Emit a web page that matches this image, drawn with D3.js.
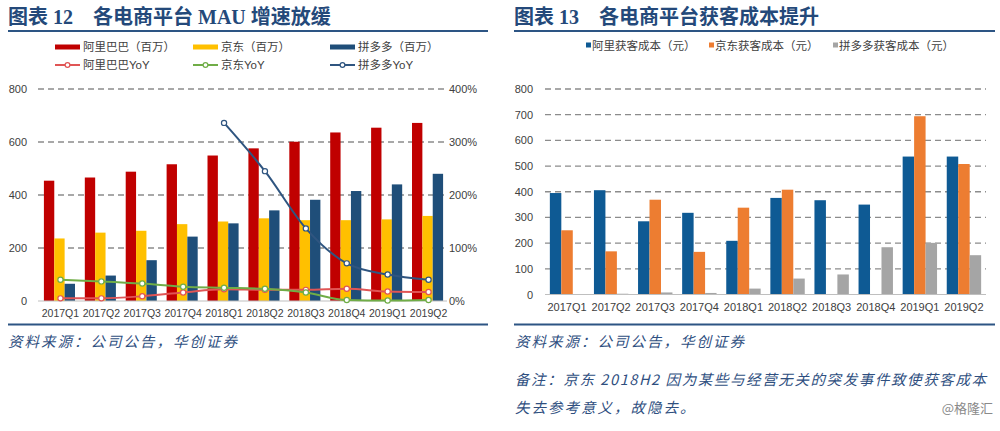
<!DOCTYPE html>
<html><head><meta charset="utf-8">
<script src="https://cdn.jsdelivr.net/npm/d3@7"></script>
<style>
html,body{margin:0;padding:0;background:#fff;}
svg text{font-family:"Liberation Sans","Noto Sans CJK SC",sans-serif;}
</style></head>
<body>
<svg id="c" width="1000" height="431"></svg>
<script>
// ---------- data ----------
const quarters = ["2017Q1","2017Q2","2017Q3","2017Q4","2018Q1","2018Q2","2018Q3","2018Q4","2019Q1","2019Q2"];
// Chart 12: MAU (millions) and YoY (%)
const aliMAU = [454,466,488,516,549,576,601,636,654,672];
const jdMAU  = [236,258,265,290,300,312,305,305,308,321];
const pddMAU = [65,96,154,243,293,342,382,415,440,480];
const aliYoY = [5,5,9,16,22,21,21,23,18,17];
const jdYoY  = [40,37,33,27,25,23,16,2,1,2];
const pddYoY = [null,null,null,null,336,245,137,71,50,40];
const leftTicks = [0,200,400,600,800];
const rightTicks = [0,100,200,300,400];
// Chart 13: customer acquisition cost (yuan)
const aliCAC = [395,406,285,318,209,376,367,350,537,537];
const jdCAC  = [250,168,369,166,338,408,null,null,694,508];
const pddCAC = [1,3,8,6,23,62,78,184,201,153];
const cacTicks = [0,100,200,300,400,500,600,700,800];

const title12 = "图表 12　各电商平台 MAU 增速放缓";
const title13 = "图表 13　各电商平台获客成本提升";
const source = "资料来源：公司公告，华创证券";
const note1 = "备注：京东 2018H2 因为某些与经营无关的突发事件致使获客成本";
const note2 = "失去参考意义，故隐去。";

const svg = d3.select("#c");
const titleColor = "#24497a";

// ---------- titles and rules ----------
function header(x, x2, txt){
  svg.append("text").attr("x", x).attr("y", 24).text(txt)
    .style("font-family", "'Liberation Serif','Noto Sans CJK SC',serif")
    .attr("font-size", 20).attr("font-weight", "bold").attr("fill", titleColor);
  svg.append("line").attr("x1", x).attr("x2", x2).attr("y1", 31).attr("y2", 31)
    .attr("stroke", "#2d5584").attr("stroke-width", 2);
}
header(8, 488, title12);
header(514, 995, title13);

function footRule(x, x2){
  svg.append("line").attr("x1", x).attr("x2", x2).attr("y1", 324.5).attr("y2", 324.5)
    .attr("stroke", "#2d5584").attr("stroke-width", 2);
}
footRule(8, 488);
footRule(514, 995);
function ftext(x, y, t, ls){
  svg.append("text").attr("x", x).attr("y", y).text(t)
    .attr("font-size", 14.5).attr("font-style", "italic").attr("fill", "#2f4f7f")
    .attr("letter-spacing", ls)
    .style("font-family", "'Noto Sans CJK SC',serif");
}
ftext(8, 347, source, 2);
ftext(515, 347, source, 2);
ftext(515, 385, note1, 1.6);
ftext(515, 413, note2, 2);
svg.append("text").attr("x", 993).attr("y", 413).attr("text-anchor", "end").text("@格隆汇")
  .attr("font-size", 13).attr("fill", "#8a8a8a").style("font-family", "'Noto Sans CJK SC',sans-serif");

// ---------- Chart 12 ----------
{
  const x0 = 38, x1e = 447, yTop = 89, yBot = 301;
  const x = d3.scaleBand().domain(quarters).range([x0, x1e]);
  const y = d3.scaleLinear().domain([0, 800]).range([yBot, yTop]);
  const y2 = d3.scaleLinear().domain([0, 400]).range([yBot, yTop]);
  const groupW = x.bandwidth() * 0.76;
  const xs = d3.scaleBand().domain(["ali","jd","pdd"]).range([0, groupW]);
  const off = (x.bandwidth() - groupW) / 2 + 1;

  const g = svg.append("g");
  g.selectAll(".grid").data(leftTicks.filter(d => d > 0)).join("line")
    .attr("x1", x0).attr("x2", x1e).attr("y1", d => y(d)).attr("y2", d => y(d))
    .attr("stroke", "#8c8c8c").attr("stroke-width", 1.3).attr("stroke-dasharray", "6,4");
  const series = [["ali", aliMAU, "#c00000"], ["jd", jdMAU, "#ffc000"], ["pdd", pddMAU, "#1f4e79"]];
  series.forEach(([k, vals, col]) => {
    g.append("g").selectAll("rect").data(quarters.map((q, i) => ({q, v: vals[i]}))).join("rect")
      .attr("x", d => x(d.q) + off + xs(k)).attr("width", xs.bandwidth())
      .attr("y", d => y(d.v)).attr("height", d => yBot - y(d.v)).attr("fill", col);
  });
  g.append("line").attr("x1", x0).attr("x2", x1e).attr("y1", yBot).attr("y2", yBot)
    .attr("stroke", "#bfbfbf").attr("stroke-width", 1);
  const lines = [[aliYoY, "#e05555"], [jdYoY, "#70ad47"], [pddYoY, "#2f5580"]];
  lines.forEach(([vals, col]) => {
    const pts = quarters.map((q, i) => ({q, v: vals[i]})).filter(d => d.v != null);
    const line = d3.line().x(d => x(d.q) + x.bandwidth() / 2 + 2).y(d => y2(d.v)).curve(d3.curveMonotoneX);
    g.append("path").datum(pts).attr("d", line).attr("fill", "none").attr("stroke", col).attr("stroke-width", 2);
    g.append("g").selectAll("circle").data(pts).join("circle")
      .attr("cx", d => x(d.q) + x.bandwidth() / 2 + 2).attr("cy", d => y2(d.v)).attr("r", 2.6)
      .attr("fill", "#fff").attr("stroke", col).attr("stroke-width", 1.2);
  });
  const ax = g.append("g").attr("transform", `translate(${x0},0)`)
    .call(d3.axisLeft(y).tickValues(leftTicks).tickSize(0).tickPadding(11));
  ax.select(".domain").remove();
  ax.selectAll("text").attr("font-size", 11).attr("fill", "#404040").style("font-family", "'Liberation Sans',sans-serif");
  const ax2 = g.append("g").attr("transform", `translate(${x1e},0)`)
    .call(d3.axisRight(y2).tickValues(rightTicks).tickFormat(d => d + "%").tickSize(0).tickPadding(2));
  ax2.select(".domain").remove();
  ax2.selectAll("text").attr("font-size", 11).attr("fill", "#404040").style("font-family", "'Liberation Sans',sans-serif");
  const axb = g.append("g").attr("transform", `translate(2,${yBot})`)
    .call(d3.axisBottom(x).tickSize(0).tickPadding(9));
  axb.select(".domain").remove();
  axb.selectAll("text").attr("font-size", 10.5).attr("fill", "#404040").style("font-family", "'Liberation Sans',sans-serif");

  const leg1 = [["阿里巴巴（百万）", "#c00000", 55], ["京东（百万）", "#ffc000", 193], ["拼多多（百万）", "#1f4e79", 330]];
  leg1.forEach(([t, c, lx]) => {
    svg.append("rect").attr("x", lx).attr("y", 44.5).attr("width", 25).attr("height", 5).attr("fill", c);
    svg.append("text").attr("x", lx + 28).attr("y", 51).text(t).attr("font-size", 11.5).attr("fill", "#404040");
  });
  const leg2 = [["阿里巴巴YoY", "#e05555", 55], ["京东YoY", "#70ad47", 193], ["拼多多YoY", "#2f5580", 330]];
  leg2.forEach(([t, c, lx]) => {
    svg.append("line").attr("x1", lx).attr("x2", lx + 25).attr("y1", 65).attr("y2", 65).attr("stroke", c).attr("stroke-width", 2);
    svg.append("circle").attr("cx", lx + 12.5).attr("cy", 65).attr("r", 2.4).attr("fill", "#fff").attr("stroke", c).attr("stroke-width", 1.2);
    svg.append("text").attr("x", lx + 28).attr("y", 69).text(t).attr("font-size", 11.5).attr("fill", "#404040");
  });
}

// ---------- Chart 13 ----------
{
  const x0 = 545, x1e = 986, yTop = 89, yBot = 294.5;
  const x = d3.scaleBand().domain(quarters).range([x0, x1e]);
  const y = d3.scaleLinear().domain([0, 800]).range([yBot, yTop]);
  const groupW = x.bandwidth() * 0.78;
  const xs = d3.scaleBand().domain(["ali","jd","pdd"]).range([0, groupW]);
  const off = (x.bandwidth() - groupW) / 2;
  const g = svg.append("g");
  g.selectAll(".grid").data(cacTicks.filter(d => d > 0)).join("line")
    .attr("x1", x0).attr("x2", x1e).attr("y1", d => y(d)).attr("y2", d => y(d))
    .attr("stroke", "#8c8c8c").attr("stroke-width", 1.3).attr("stroke-dasharray", "6,4");
  const series = [["ali", aliCAC, "#0e5a94"], ["jd", jdCAC, "#ed7d31"], ["pdd", pddCAC, "#a5a5a5"]];
  series.forEach(([k, vals, col]) => {
    g.append("g").selectAll("rect").data(quarters.map((q, i) => ({q, v: vals[i]})).filter(d => d.v != null)).join("rect")
      .attr("x", d => x(d.q) + off + xs(k)).attr("width", xs.bandwidth())
      .attr("y", d => y(d.v)).attr("height", d => yBot - y(d.v)).attr("fill", col);
  });
  g.append("line").attr("x1", x0).attr("x2", x1e).attr("y1", yBot).attr("y2", yBot)
    .attr("stroke", "#bfbfbf").attr("stroke-width", 1);
  const ax = g.append("g").attr("transform", `translate(${x0},0)`)
    .call(d3.axisLeft(y).tickValues(cacTicks).tickSize(0).tickPadding(12));
  ax.select(".domain").remove();
  ax.selectAll("text").attr("font-size", 11).attr("fill", "#404040").style("font-family", "'Liberation Sans',sans-serif");
  const axb = g.append("g").attr("transform", `translate(0,${yBot})`)
    .call(d3.axisBottom(x).tickSize(0).tickPadding(9));
  axb.select(".domain").remove();
  axb.selectAll("text").attr("font-size", 11).attr("fill", "#404040").style("font-family", "'Liberation Sans',sans-serif");

  const leg = [["阿里获客成本（元）", "#0e5a94", 586], ["京东获客成本（元）", "#ed7d31", 709], ["拼多多获客成本（元）", "#a5a5a5", 833]];
  leg.forEach(([t, c, lx]) => {
    svg.append("rect").attr("x", lx).attr("y", 42.5).attr("width", 5).attr("height", 5).attr("fill", c);
    svg.append("text").attr("x", lx + 6).attr("y", 50).text(t).attr("font-size", 11.5).attr("fill", "#404040");
  });
}
</script>
</body></html>
